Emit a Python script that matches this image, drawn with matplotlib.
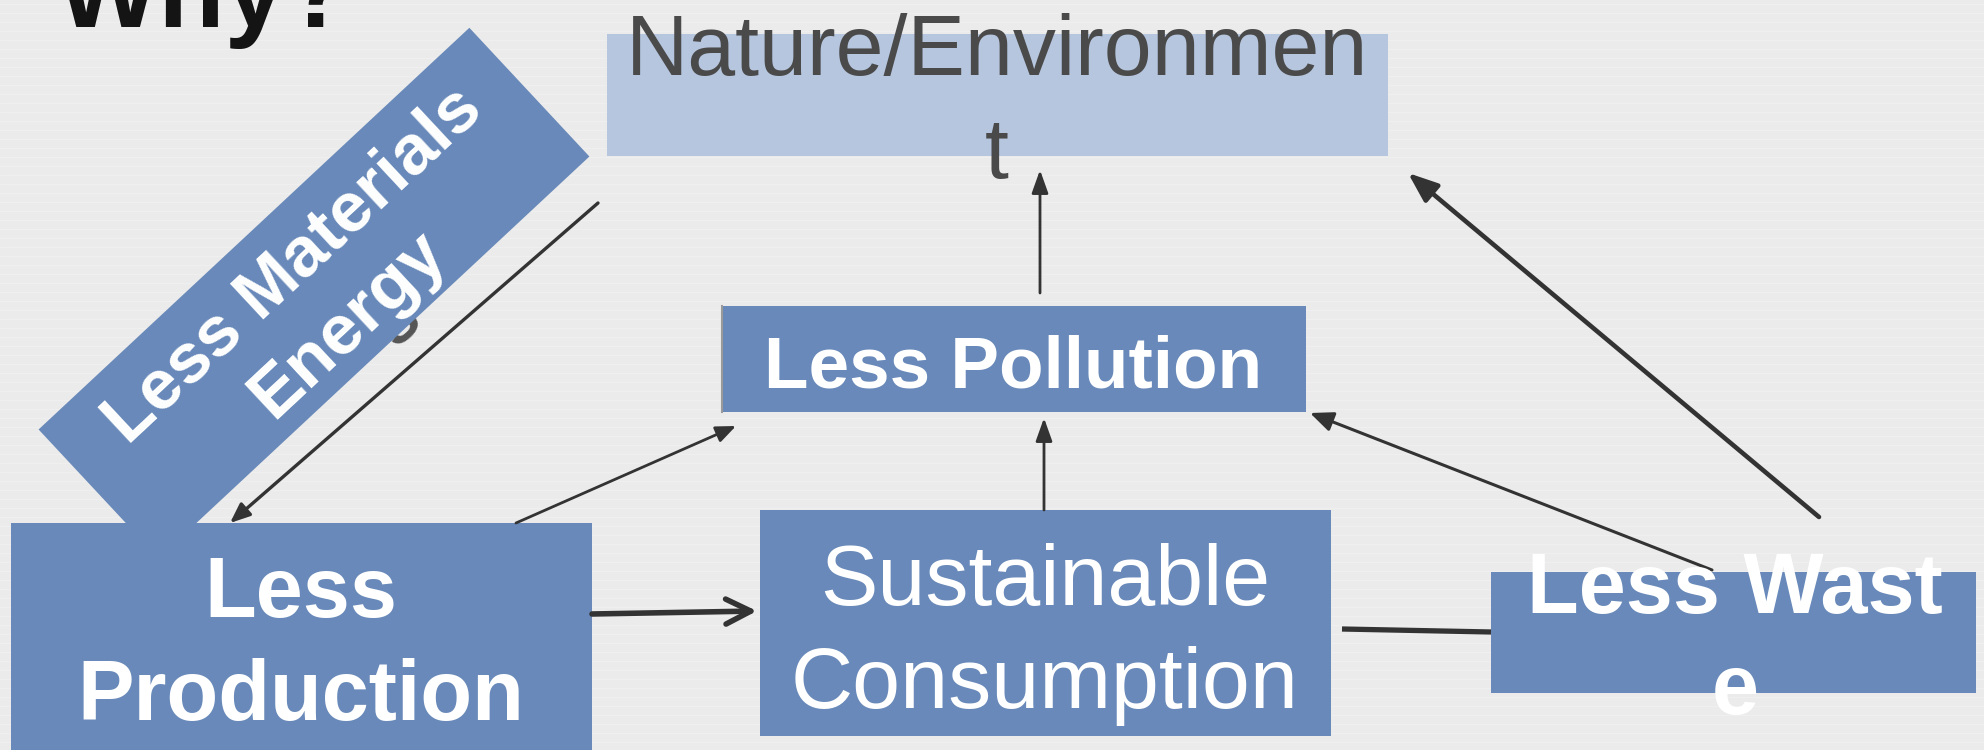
import matplotlib
matplotlib.use("Agg")
import matplotlib.pyplot as plt
from matplotlib.patches import Rectangle, FancyArrowPatch
import numpy as np

# ---------------- content ----------------
title_text = "Why?"
node_ids = ["nature", "pollution", "production", "consumption", "waste", "materials"]
node_labels = ["Nature/Environmen\nt", "Less Pollution", "Less\nProduction",
               "Sustainable\nConsumption", "Less Wast\ne", "Less Materials\nEnergy"]
edge_src = ["materials", "production", "production", "consumption", "pollution", "waste", "waste", "consumption"]
edge_dst = ["production", "pollution", "consumption", "pollution", "nature", "pollution", "nature", "waste"]

# ---------------- layout (pixel coords, y down) ----------------
W, H = 1984, 750
BLUE = "#6889b9"
boxes = {
    "nature":      dict(x0=607, y0=34, x1=1388, y1=156, fc="#b6c6df"),
    "pollution":   dict(x0=721, y0=306, x1=1306, y1=412, fc=BLUE),
    "production":  dict(x0=11, y0=523, x1=592, y1=760, fc=BLUE),
    "consumption": dict(x0=760, y0=510, x1=1331, y1=736, fc=BLUE),
    "waste":       dict(x0=1491, y0=572, x1=1976, y1=693, fc=BLUE),
}
rot_box = dict(cx=314, cy=293, w=589, h=176, angle=43)

text_style = {
    "nature":      dict(cx=997, baselines=[75, 178], size=62, weight="normal", color="#4a4a4a"),
    "pollution":   dict(cx=1013, baselines=[387], size=52.5, weight="bold", color="white"),
    "production":  dict(cx=301, baselines=[617, 720], size=61, weight="bold", color="white"),
    "consumption": dict(cx=1045, baselines=[605, 708], size=62, weight="normal", color="white"),
    "waste":       dict(cx=1735, baselines=[613, 714], size=61, weight="bold", color="white"),
}

edge_geom = [
    dict(p0=(598, 203), p1=(230, 523), lw=2.4, style="-|>", hw=0.25, hl=0.6),
    dict(p0=(516, 523), p1=(736, 426), lw=2.0, style="-|>", hw=0.25, hl=0.6),
    dict(p0=(592, 614), p1=(757, 611), lw=4.0, style="->", hw=0.45, hl=0.9),
    dict(p0=(1044, 510), p1=(1044, 418), lw=2.0, style="-|>", hw=0.25, hl=0.7),
    dict(p0=(1040, 293), p1=(1040, 170), lw=2.0, style="-|>", hw=0.25, hl=0.7),
    dict(p0=(1712, 570), p1=(1310, 413), lw=2.2, style="-|>", hw=0.3, hl=0.7),
    dict(p0=(1819, 517), p1=(1408, 173), lw=3.3, style="-|>", hw=0.35, hl=0.9),
    dict(p0=(1342, 629), p1=(1491, 632), lw=3.8, style="-", hw=0, hl=0),
]

FONT = "Liberation Sans"

fig = plt.figure(figsize=(W / 100, H / 100), dpi=100)
fig.patch.set_facecolor("#ebebeb")
ax = fig.add_axes([0, 0, 1, 1])
ax.set_xlim(0, W)
ax.set_ylim(H, 0)
ax.axis("off")

# faint background streaks
for yy in np.arange(4, H, 9):
    ax.axhline(yy, color="white", lw=0.6, alpha=0.25, zorder=0)

# title (cut off at the top edge, as in the reference)
ax.text(57, 27, title_text, fontsize=78, fontweight="bold", family=FONT,
        color="#141414", ha="left", va="baseline", zorder=6)

# rectangular boxes
for nid, b in boxes.items():
    r = Rectangle((b["x0"], b["y0"]), b["x1"] - b["x0"], b["y1"] - b["y0"],
                  facecolor=b["fc"], edgecolor="none", zorder=3)
    ax.add_patch(r)
ax.plot([722, 722], [306, 412], color="#9a9a9a", lw=1.5, zorder=3.5)

# hidden grey glyph peeking out behind rotated box
ax.text(398, 322, "s", fontsize=50, fontweight="bold", family=FONT, color="#555555",
        rotation=43, rotation_mode="anchor", ha="center", va="center", zorder=1.5)

# rotated box
rb = rot_box
rr = Rectangle((rb["cx"] - rb["w"] / 2, rb["cy"] - rb["h"] / 2), rb["w"], rb["h"],
               angle=-rb["angle"], rotation_point="center",
               facecolor=BLUE, edgecolor="none", zorder=2)
ax.add_patch(rr)
ang = np.deg2rad(rb["angle"])
nvec = np.array([np.sin(ang), np.cos(ang)])  # perpendicular, pointing down-right on screen
tvec = np.array([np.cos(ang), -np.sin(ang)])  # along the box, up-right on screen
mat_lines = node_labels[node_ids.index("materials")].split("\n")
for k, line in enumerate(mat_lines):
    off = -15 + 80 * k
    px, py = np.array([rb["cx"], rb["cy"]]) + off * nvec + 4 * tvec
    ax.text(px, py, line, fontsize=51, fontweight="bold", family=FONT, color="white",
            rotation=rb["angle"], rotation_mode="anchor", ha="center", va="baseline", zorder=2.5)

# box labels
for nid, lab in zip(node_ids, node_labels):
    if nid not in text_style:
        continue
    st = text_style[nid]
    for line, bl in zip(lab.split("\n"), st["baselines"]):
        ax.text(st["cx"], bl, line, fontsize=st["size"], fontweight=st["weight"],
                family=FONT, color=st["color"], ha="center", va="baseline", zorder=5)

# edges
for s, d, g in zip(edge_src, edge_dst, edge_geom):
    if g["style"] == "-":
        ax.plot([g["p0"][0], g["p1"][0]], [g["p0"][1], g["p1"][1]],
                color="#333333", lw=g["lw"], solid_capstyle="butt", zorder=4)
        continue
    style = f"{g['style']},head_width={g['hw']},head_length={g['hl']}"
    a = FancyArrowPatch(g["p0"], g["p1"], arrowstyle=style, mutation_scale=20,
                        color="#333333", lw=g["lw"], shrinkA=0, shrinkB=0, zorder=4)
    ax.add_patch(a)

fig.savefig("out.png", dpi=100, facecolor=fig.get_facecolor())
